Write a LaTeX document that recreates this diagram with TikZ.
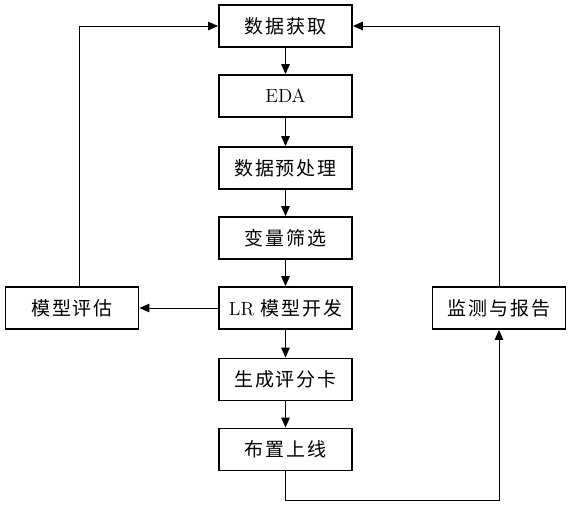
\documentclass[tikz,border=0pt]{standalone}
\usepackage{fontspec}
\newfontfamily\cjk[LetterSpace=10]{Noto Sans CJK SC}
\usetikzlibrary{arrows.meta,calc}

\tikzset{
  stepbox/.style={draw, line width=1.3pt, minimum width=3.325cm, minimum height=1.05cm,
    inner sep=0pt, font=\fontsize{13.5}{15}\selectfont\cjk},
  flow/.style={line width=0.7pt, -{Triangle[length=7pt,width=6pt]}}
}

\begin{document}
\begin{tikzpicture}[x=0.025cm, y=-0.025cm]
\useasboundingbox (0,0) rectangle (571,506);

% main chain
\node[stepbox] (get) at (285.5,26) {数据获取};
\node[stepbox] (eda) at (285.5,96) {\rmfamily EDA};
\node[stepbox] (prep) at (285.5,168) {数据预处理};
\node[stepbox] (sel) at (285.5,238) {变量筛选};
\node[stepbox] (lr) at (285.5,308) {{\rmfamily LR} 模型开发};
\node[stepbox] (card) at (285.5,379.5) {生成评分卡};
\node[stepbox] (deploy) at (285.5,449.5) {布置上线};

% side boxes
\node[stepbox] (eval) at (72,308) {模型评估};
\node[stepbox] (mon) at (499,308) {监测与报告};

% arrows down
\foreach \a/\b in {get/eda, eda/prep, prep/sel, sel/lr, lr/card, card/deploy}
  \draw[flow] (\a.south) -- (\b.north);

% evaluation loop
\draw[flow] (lr.west) -- (eval.east);
\draw[flow] ($(eval.north)+(7,0)$) |- (get.west);

% monitoring loop
\draw[flow] (deploy.south) -- ++(0,29) -| (mon.south);
\draw[flow] (mon.north) |- (get.east);

\end{tikzpicture}
\end{document}
